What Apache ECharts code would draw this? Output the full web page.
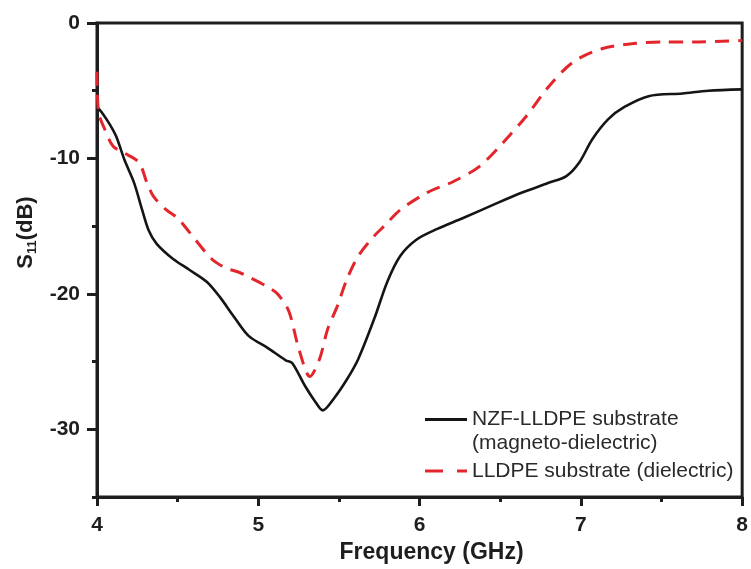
<!DOCTYPE html>
<html>
<head>
<meta charset="utf-8">
<script src="https://cdn.jsdelivr.net/npm/echarts@6/dist/echarts.min.js"></script>
<style>
html,body{margin:0;padding:0;background:#fff;}
#c{width:751px;height:569px;}
</style>
</head>
<body>
<div id="c"></div>
<script>
// ---- data ----
var freqNZF = [4.00,4.03,4.08,4.12,4.17,4.23,4.28,4.32,4.37,4.47,4.57,4.68,4.76,4.85,4.94,5.06,5.17,5.21,5.29,5.35,5.40,5.47,5.55,5.62,5.72,5.80,5.88,5.98,6.11,6.27,6.48,6.64,6.80,6.91,6.99,7.07,7.17,7.27,7.42,7.63,7.79,8.00];
var s11NZF  = [-6.2,-6.6,-7.5,-8.4,-10.1,-11.8,-13.8,-15.3,-16.3,-17.4,-18.2,-19.1,-20.2,-21.7,-23.1,-24.0,-24.9,-25.1,-26.8,-27.9,-28.6,-27.7,-26.3,-24.8,-21.8,-19.1,-17.2,-16.0,-15.2,-14.4,-13.3,-12.5,-11.8,-11.3,-10.3,-8.6,-7.1,-6.2,-5.4,-5.2,-5.0,-4.9];
var freqLLDPE = [4.00,4.01,4.05,4.10,4.17,4.26,4.31,4.35,4.43,4.50,4.57,4.71,4.80,4.88,4.95,5.06,5.12,5.19,5.25,5.32,5.38,5.43,5.49,5.55,5.62,5.72,5.78,5.88,6.05,6.21,6.37,6.52,6.66,6.80,6.95,7.13,7.34,7.52,7.70,8.00];
var s11LLDPE  = [-3.6,-6.6,-7.9,-9.1,-9.6,-10.3,-11.8,-12.8,-13.8,-14.4,-15.4,-17.4,-18.1,-18.4,-18.8,-19.5,-20.0,-21.3,-24.0,-26.1,-24.8,-22.6,-20.9,-18.9,-17.2,-15.7,-15.0,-13.8,-12.5,-11.7,-10.6,-8.8,-6.9,-4.7,-2.9,-1.9,-1.5,-1.4,-1.4,-1.3];
var seriesNames = ['NZF-LLDPE substrate (magneto-dielectric)', 'LLDPE substrate (dielectric)'];
var legendLines1 = ['NZF-LLDPE substrate', '(magneto-dielectric)'];
var xTicks = [4,5,6,7,8];
var yTicks = [0,-10,-20,-30];
var yMinorTicks = [-5,-15,-25,-35];

function pairs(xs, ys){ return xs.map(function(x,i){ return [x, ys[i]]; }); }

var FONT = 'Liberation Sans';
var INK = '#1e1e1e';
var RED = '#e3262c';

var chart = echarts.init(document.getElementById('c'), null, {renderer:'canvas'});
chart.setOption({
  backgroundColor: '#ffffff',
  animation: false,
  grid: {left: 97, top: 23, width: 651, height: 476, show: true, borderColor: INK, borderWidth: 3, backgroundColor: 'transparent'},
  legend: [
    {left: 420, top: 380, orient: 'vertical', itemWidth: 42, itemHeight: 3,
     icon: 'path://M0,0H42V3H0Z',
     data: [seriesNames[0]],
     formatter: function(){ return '{sp| }\n{a|' + legendLines1[0] + '}\n{a|' + legendLines1[1] + '}'; },
     textStyle: {rich: {
       sp: {fontFamily: FONT, fontSize: 21, lineHeight: 24},
       a: {fontFamily: FONT, fontSize: 21, color: '#2a2a2a', lineHeight: 24}
     }}},
    {left: 420, top: 454, orient: 'vertical', itemWidth: 42, itemHeight: 3,
     icon: 'path://M0,0H18V3H0ZM32,0H42V3H32Z',
     data: [seriesNames[1]],
     textStyle: {fontFamily: FONT, fontSize: 21, color: '#2a2a2a', lineHeight: 24}}
  ],
  xAxis: {
    type: 'value', min: 4, max: 8, interval: 1,
    name: 'Frequency (GHz)', nameLocation: 'middle', nameGap: 38,
    nameTextStyle: {fontFamily: FONT, fontSize: 23, fontWeight: 'bold', color: INK, padding: [0,0,0,24]},
    axisLine: {onZero: false, lineStyle: {color: INK, width: 3}},
    axisTick: {show: true, length: 9, lineStyle: {color: INK, width: 3}},
    minorTick: {show: true, splitNumber: 2, length: 5, lineStyle: {color: INK, width: 3}},
    splitLine: {show: false},
    axisLabel: {customValues: xTicks, margin: 18, fontFamily: FONT, fontSize: 21, fontWeight: 'bold', color: INK}
  },
  yAxis: [
    {
      type: 'value', min: -35, max: 0, interval: 5,
      name: '{m|S}{s|11}{m|(dB)}', nameLocation: 'middle', nameGap: 56, nameRotate: 90,
      nameTextStyle: {
        padding: [0, 0, 0, 55],
        rich: {
          m: {fontFamily: FONT, fontSize: 22, fontWeight: 'bold', color: INK, lineHeight: 26},
          s: {fontFamily: FONT, fontSize: 13, fontWeight: 'bold', color: INK, lineHeight: 26, verticalAlign: 'bottom', padding: [10,0,0,0]}
        }
      },
      axisLine: {onZero: false, lineStyle: {color: INK, width: 3}},
      axisTick: {show: true, customValues: yTicks, length: 10, lineStyle: {color: INK, width: 3}},
      splitLine: {show: false},
      axisLabel: {customValues: yTicks, margin: 17, fontFamily: FONT, fontSize: 21, fontWeight: 'bold', color: INK}
    },
    {
      type: 'value', min: -35, max: 0, position: 'left',
      axisLine: {show: false, onZero: false},
      axisTick: {show: true, customValues: yMinorTicks, length: 5, lineStyle: {color: INK, width: 3}},
      axisLabel: {show: false},
      splitLine: {show: false}
    }
  ],
  series: [
    {
      name: seriesNames[0], type: 'line', showSymbol: false, symbol: 'none', smooth: 0.3,
      data: pairs(freqNZF, s11NZF),
      lineStyle: {color: '#151515', width: 2.6},
      itemStyle: {color: '#151515'}
    },
    {
      name: seriesNames[1], type: 'line', showSymbol: false, symbol: 'none', smooth: 0.3,
      data: pairs(freqLLDPE, s11LLDPE),
      lineStyle: {color: RED, width: 3, type: [14, 9]},
      itemStyle: {color: RED}
    }
  ]
});
</script>
</body>
</html>
